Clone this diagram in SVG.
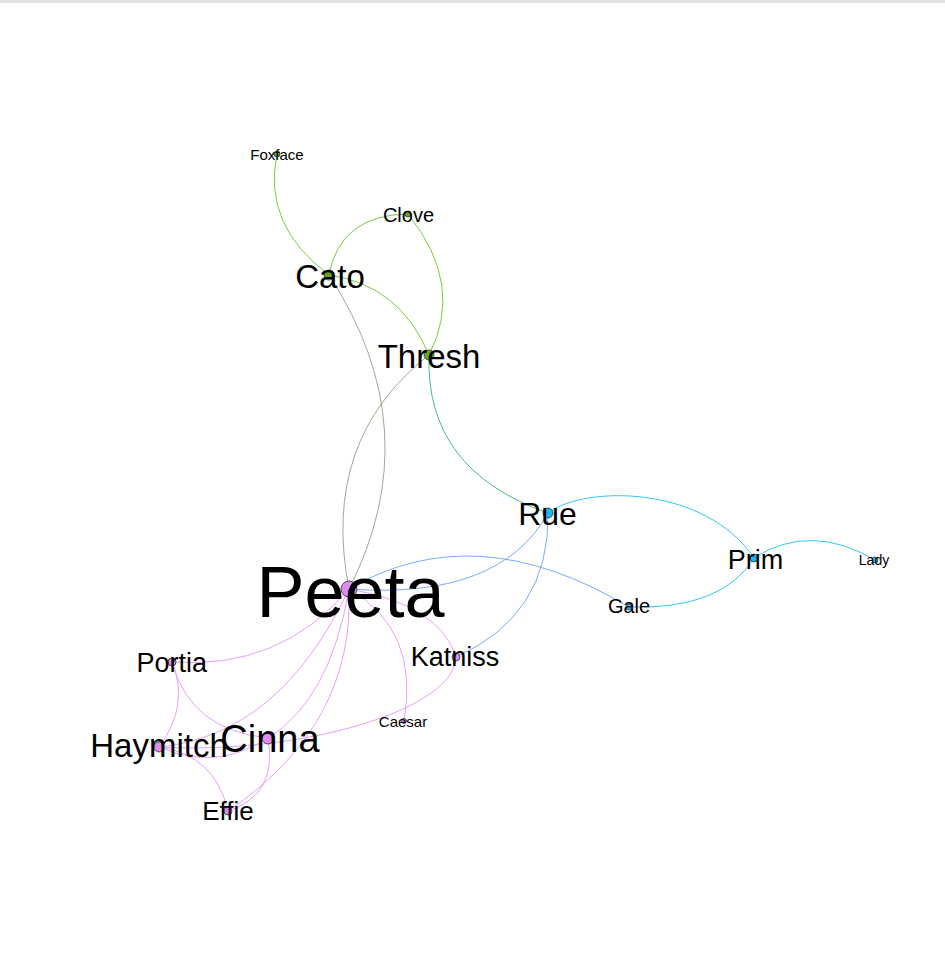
<svg xmlns="http://www.w3.org/2000/svg" width="945" height="966" viewBox="0 0 945 966">
<style>
.e{fill:none;stroke-width:1}
.g{stroke:#7acb3c}
.t{stroke:#45c080}
.y{stroke:#a8a792}
.b{stroke:#7aaaff}
.c{stroke:#33c6ff}
.p{stroke:#e6a0ff}
.n{stroke:#333;stroke-width:0.8}
.ng{fill:#62a812}
.nc{fill:#18b8f0}
.np{fill:#df8cf2}
text{font-family:"Liberation Sans",Arial,sans-serif;fill:#000;text-anchor:middle}
</style>
<rect x="0" y="0" width="945" height="966" fill="#fff"/>
<rect x="0" y="0" width="945" height="3" fill="#e2e2e2"/>
<g id="connectors">
<path class="e g" d="M277,154 Q262,225 329,275"/>
<path class="e g" d="M329,275 Q340,215 408,214"/>
<path class="e g" d="M408,214 Q465,285 429,355"/>
<path class="e g" d="M329,275 Q400,285 429,355"/>
<path class="e t" d="M429,355 Q425,470 548,513"/>
<path class="e y" d="M329,275 Q430,430 349,589"/>
<path class="e y" d="M429,355 Q320,440 349,589"/>
<path class="e c" d="M548,513 C585,485 705,485 754,558"/>
<path class="e c" d="M754,558 Q722,610 629,607"/>
<path class="e c" d="M754,558 Q810,522 875,560"/>
<path class="e b" d="M548,513 Q500,600 349,589"/>
<path class="e b" d="M349,589 Q475,515 629,607"/>
<path class="e b" d="M548,513 Q550,615 456,657"/>
<path class="e p" d="M349,589 Q440,605 456,657"/>
<path class="e p" d="M456,657 C455,710 300,755 159,747"/>
<path class="e p" d="M349,589 Q420,630 404,721"/>
<path class="e p" d="M349,589 Q280,670 172,662"/>
<path class="e p" d="M349,589 Q280,735 159,747"/>
<path class="e p" d="M349,589 Q330,700 268,738"/>
<path class="e p" d="M349,589 Q355,725 228,811"/>
<path class="e p" d="M172,662 Q190,730 268,738"/>
<path class="e p" d="M172,662 Q190,705 159,747"/>
<path class="e p" d="M159,747 Q215,772 268,738"/>
<path class="e p" d="M159,747 Q215,755 228,811"/>
<path class="e p" d="M268,738 Q278,795 228,811"/>
</g>
<g id="node-foxface"><circle class="n ng" cx="277" cy="154" r="3"/><text x="277" y="160" font-size="15">Foxface</text></g>
<g id="node-clove"><circle class="n ng" cx="408" cy="214" r="3"/><text x="408.5" y="222" font-size="20">Clove</text></g>
<g id="node-cato"><circle class="n ng" cx="329" cy="275" r="5"/><text x="330" y="288" font-size="33">Cato</text></g>
<g id="node-thresh"><circle class="n ng" cx="429" cy="355" r="5"/><text x="429" y="368" font-size="33">Thresh</text></g>
<g id="node-rue"><circle class="n nc" cx="548" cy="513" r="5"/><text x="547.5" y="525" font-size="32">Rue</text></g>
<g id="node-prim"><circle class="n nc" cx="754" cy="558" r="4"/><text x="755.5" y="569" font-size="27">Prim</text></g>
<g id="node-lady"><circle class="n nc" cx="875" cy="560" r="3"/><text x="874" y="564.5" font-size="14">Lady</text></g>
<g id="node-gale"><circle class="n nc" cx="629" cy="607" r="3"/><text x="629" y="613" font-size="20">Gale</text></g>
<g id="node-peeta"><circle class="n np" cx="349" cy="589" r="8"/><text x="350.5" y="616.5" font-size="72">Peeta</text></g>
<g id="node-katniss"><circle class="n np" cx="456" cy="657" r="4"/><text x="455" y="666" font-size="27">Katniss</text></g>
<g id="node-portia"><circle class="n np" cx="172" cy="662" r="4"/><text x="171.7" y="671.5" font-size="27">Portia</text></g>
<g id="node-caesar"><circle class="n np" cx="404" cy="721" r="2.5"/><text x="403" y="727" font-size="15">Caesar</text></g>
<g id="node-haymitch"><circle class="n np" cx="159" cy="747" r="5"/><text x="159" y="757" font-size="33">Haymitch</text></g>
<g id="node-cinna"><circle class="n np" cx="268" cy="738" r="6"/><text x="270" y="751.5" font-size="38">Cinna</text></g>
<g id="node-effie"><circle class="n np" cx="228" cy="811" r="4"/><text x="228" y="820" font-size="26">Effie</text></g>
</svg>
